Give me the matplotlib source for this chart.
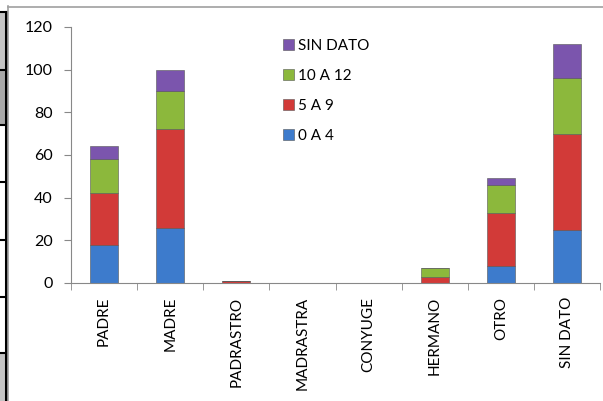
import matplotlib
matplotlib.use('Agg')
import matplotlib.pyplot as plt
import numpy as np
from matplotlib.patches import Rectangle
from matplotlib.lines import Line2D

categorias = ['PADRE', 'MADRE', 'PADRASTRO', 'MADRASTRA', 'CONYUGE',
              'HERMANO', 'OTRO', 'SIN DATO']
edad_0_4 = [18, 26, 0, 0, 0, 0, 8, 25]
edad_5_9 = [24, 46, 1, 0, 0, 3, 25, 45]
edad_10_12 = [16, 18, 0, 0, 0, 4, 13, 26]
sin_dato = [6, 10, 0, 0, 0, 0, 3, 16]

series = [('0 A 4', edad_0_4, '#3d7bcc'),
          ('5 A 9', edad_5_9, '#d23a38'),
          ('10 A 12', edad_10_12, '#8cb83c'),
          ('SIN DATO', sin_dato, '#7b55ad')]

plt.rcParams['font.family'] = ['Lato', 'DejaVu Sans']

fig = plt.figure(figsize=(6.03, 4.01), dpi=100)
W, H = 603, 401

# spreadsheet fragment on the left and the chart frame
fig.patches.append(Rectangle((0, 1 - 70 / H), 5 / W, 58 / H, transform=fig.transFigure,
                             facecolor='#c4c4c4', edgecolor='none'))
fig.patches.append(Rectangle((0, 1 - 125 / H), 5 / W, 55 / H, transform=fig.transFigure,
                             facecolor='#a9a9a9', edgecolor='none'))
fig.patches.append(Rectangle((0, 0), 5 / W, 48 / H, transform=fig.transFigure,
                             facecolor='#c4c4c4', edgecolor='none'))
fig.lines.append(Line2D([5.5 / W, 5.5 / W], [0, 1 - 12 / H], transform=fig.transFigure,
                        color='black', lw=2.2))
for yy in [12, 70, 125, 182, 240, 297, 353]:
    fig.lines.append(Line2D([0, 6 / W], [1 - yy / H, 1 - yy / H], transform=fig.transFigure,
                            color='black', lw=1.5))
fig.lines.append(Line2D([7.5 / W, 7.5 / W], [0, 1 - 6 / H], transform=fig.transFigure,
                        color='#a0a0a0', lw=1.2))
fig.lines.append(Line2D([7.5 / W, 1], [1 - 6.5 / H, 1 - 6.5 / H], transform=fig.transFigure,
                        color='#a0a0a0', lw=1.2))

ax = fig.add_axes([71 / W, (H - 283) / H, (600 - 71) / W, (283 - 27) / H])

x = np.arange(len(categorias))
bottom = np.zeros(len(categorias))
handles = []
for nombre, vals, color in series:
    vals = np.array(vals, dtype=float)
    b = ax.bar(x, vals, width=0.42, bottom=bottom, color=color,
               edgecolor='#555555', linewidth=0.4, label=nombre)
    handles.append(b)
    bottom += vals

ax.set_xlim(-0.5, len(categorias) - 0.5)
ax.set_ylim(0, 120)
ax.set_yticks(range(0, 121, 20))
ax.set_xticks(x)
ax.set_xticklabels(categorias, rotation=90, fontsize=11)
ax.set_xticks(np.arange(-0.5, len(categorias), 1), minor=True)
ax.tick_params(axis='x', which='major', length=0, pad=10)
ax.tick_params(axis='x', which='minor', length=5, color='#888888', direction='out')
ax.tick_params(axis='y', length=5, color='#888888', labelsize=11.5, pad=8)

for s in ['top', 'right']:
    ax.spines[s].set_visible(False)
ax.spines['left'].set_color('#888888')
ax.spines['bottom'].set_color('#888888')

leg = ax.legend(handles[::-1], [s[0] for s in series][::-1],
                loc='upper left', bbox_to_anchor=(0.401, 0.953),
                borderaxespad=0, borderpad=0,
                frameon=False, fontsize=11, handlelength=0.7, handleheight=0.7,
                handletextpad=0.3, labelspacing=1.05)

fig.savefig('out.png', dpi=100)
